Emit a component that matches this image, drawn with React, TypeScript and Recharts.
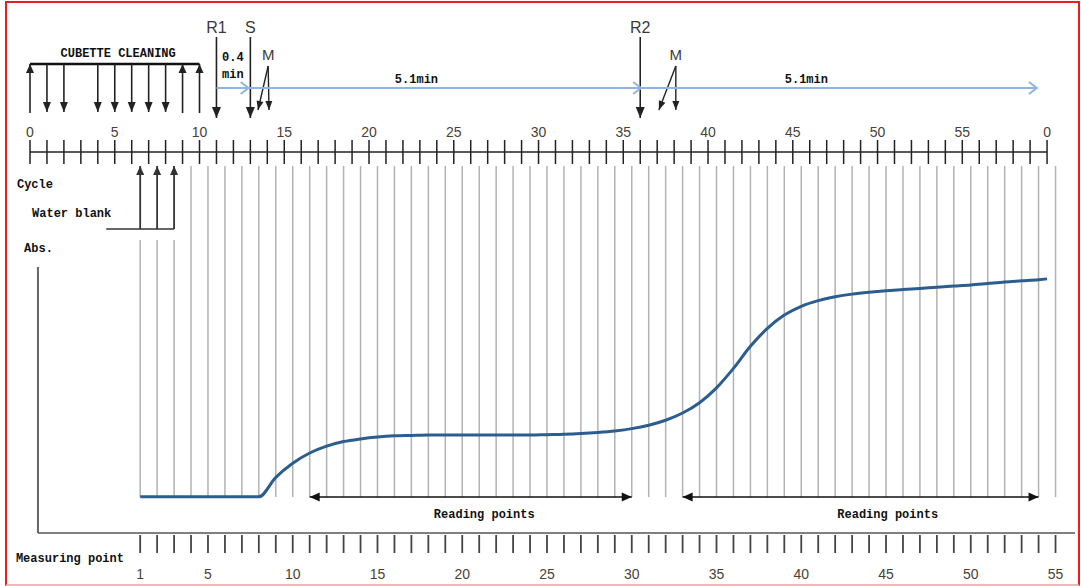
import React from 'react'
import { ComposedChart, Line, XAxis, YAxis, ReferenceLine, ReferenceDot } from 'recharts'

// absorbance curve, read per measuring point
const measuringPoints = [
  1, 2, 3, 4, 5, 6, 7, 8, 9, 10, 11, 12, 13, 14, 15, 16, 17, 18, 19, 20,
  21, 22, 23, 24, 25, 26, 27, 28, 29, 30, 31, 32, 33, 34, 35, 36, 37, 38, 39, 40,
  41, 42, 43, 44, 45, 46, 47, 48, 49, 50, 51, 52, 53, 54, 54.5,
]
const absorbance = [
  0.095, 0.095, 0.095, 0.095, 0.095, 0.095, 0.095, 0.095,
  0.146, 0.183, 0.21, 0.228, 0.24, 0.247, 0.252, 0.255,
  0.256, 0.257, 0.257, 0.257, 0.257, 0.257, 0.257, 0.257, 0.258,
  0.259, 0.261, 0.264, 0.268, 0.274, 0.283, 0.296, 0.315, 0.342, 0.381,
  0.432, 0.49, 0.537, 0.572, 0.595, 0.61, 0.62, 0.627, 0.632, 0.636,
  0.639, 0.642, 0.645, 0.648, 0.651, 0.655, 0.659, 0.662, 0.665, 0.667,
]

// top axis (cycles) and bottom axis (measuring points)
const cycleTicks = Array.from({ length: 61 }, (_, i) => i)
const cycleLabelValues = [0, 5, 10, 15, 20, 25, 30, 35, 40, 45, 50, 55, 60]
const cycleLabels = ['0', '5', '10', '15', '20', '25', '30', '35', '40', '45', '50', '55', '0']
const mpTicks = Array.from({ length: 55 }, (_, i) => i + 1)
const mpLabelValues = [1, 5, 10, 15, 20, 25, 30, 35, 40, 45, 50, 55]

// events along the cycle axis
const cleaningUp = [0, 9, 10]
const cleaningDown = [1, 2, 4, 5, 6, 7, 8]
const reagents = [
  { label: 'R1', cycle: 11 },
  { label: 'S', cycle: 13 },
  { label: 'R2', cycle: 36 },
]
const mixing = [
  { top: 14.05, targets: [13.45, 14.1] },
  { top: 38.1, targets: [37.1, 38.1] },
]
const timeline = [
  { from: 11, to: 12.9 },
  { from: 12.9, to: 36.05 },
  { from: 36.05, to: 59.4 },
]
const timelineLabels = [
  { text: '5.1min', cycle: 22.8 },
  { text: '5.1min', cycle: 45.8 },
]
const waterBlank = [1, 2, 3]
const readingRanges = [
  { from: 11, to: 30, labelAt: 21.3 },
  { from: 33, to: 54, labelAt: 45.1 },
]

const MONO = '"Liberation Mono", "DejaVu Sans Mono", monospace'
const SANS = '"Liberation Sans", Arial, sans-serif'
const BLUE = '#2c5d8f'
const TIMELINE = '#8eb4e3'

type ArrowOpts = { color?: string; width?: number; head?: number; headW?: number; open?: boolean; both?: boolean; noHead?: boolean }

const arrowShape = (o: ArrowOpts = {}) => (p: any) => {
  const { x1, y1, x2, y2 } = p
  const color = o.color ?? '#222'
  const len = o.head ?? 10
  const hw = (o.headW ?? 8) / 2
  const dx = x2 - x1
  const dy = y2 - y1
  const d = Math.hypot(dx, dy) || 1
  const ux = dx / d
  const uy = dy / d
  const head = (tx: number, ty: number, sx: number, sy: number) => {
    const bx = tx - sx * len
    const by = ty - sy * len
    const a = `${bx - sy * hw},${by + sx * hw}`
    const b = `${bx + sy * hw},${by - sx * hw}`
    if (o.open) return <polyline points={`${a} ${tx},${ty} ${b}`} fill="none" stroke={color} strokeWidth={o.width ?? 1.5} />
    return <polygon points={`${a} ${tx},${ty} ${b}`} fill={color} />
  }
  return (
    <g>
      <line x1={x1} y1={y1} x2={x2} y2={y2} stroke={color} strokeWidth={o.width ?? 1.5} />
      {!o.noHead && head(x2, y2, ux, uy)}
      {o.both && head(x1, y1, -ux, -uy)}
    </g>
  )
}

type TextOpts = { anchor?: 'start' | 'middle' | 'end'; size?: number; family?: string; weight?: string; fill?: string }

const textShape = (text: string, o: TextOpts = {}) => (p: any) => (
  <text
    x={p.cx}
    y={p.cy}
    textAnchor={o.anchor ?? 'start'}
    fontSize={o.size ?? 12.5}
    fontFamily={o.family ?? MONO}
    fontWeight={o.weight ?? 'bold'}
    fill={o.fill ?? '#111'}
  >
    {text}
  </text>
)

const CycleTick = (props: any) => {
  const { x, y, payload } = props
  const idx = cycleLabelValues.indexOf(payload.value)
  return (
    <g>
      <line x1={x} x2={x} y1={y + 3} y2={y + 27} stroke="#222" strokeWidth={1.5} />
      {idx >= 0 && (
        <text x={x} y={y} textAnchor="middle" fontSize={14} fontFamily={SANS} fill="#4a3f35">
          {cycleLabels[idx]}
        </text>
      )}
    </g>
  )
}

const MpTick = (props: any) => {
  const { x, y, payload } = props
  const show = mpLabelValues.includes(payload.value)
  return (
    <g>
      <line x1={x} x2={x} y1={y - 18} y2={y} stroke="#444" strokeWidth={1.8} />
      {show && (
        <text x={x} y={y + 26} textAnchor="middle" fontSize={14} fontFamily={SANS} fill="#4a3f35">
          {payload.value}
        </text>
      )}
    </g>
  )
}

export default function App() {
  const data = measuringPoints.map((mp, i) => ({ mp, abs: absorbance[i] }))
  const C = { xAxisId: 'cyc', yAxisId: 'row', ifOverflow: 'visible' as const }
  const M = { xAxisId: 'mp', yAxisId: 'row', ifOverflow: 'visible' as const }

  return (
    <div style={{ position: 'absolute', left: 0, top: 0, width: 1081, height: 586, background: '#fff' }}>
      <div
        style={{
          position: 'absolute', left: 5, top: 1, width: 1075, height: 585,
          border: '2px solid #ec1c24', borderBottomColor: '#f5b5b5', boxSizing: 'border-box',
        }}
      />
      <div style={{ position: 'absolute', left: 0, top: 0 }}>
        <ComposedChart width={1081} height={586} data={data} margin={{ top: 122, right: 17, bottom: 5, left: 30 }}>
          <XAxis
            xAxisId="cyc" orientation="top" type="number" dataKey="mp" domain={[0, 61]} allowDataOverflow
            ticks={cycleTicks} interval={0} height={30} axisLine={false} tickLine={false}
            tickSize={12} tickMargin={3} tick={(p: any) => <CycleTick {...p} />}
          />
          <XAxis
            xAxisId="mp" orientation="bottom" type="number" dataKey="mp" domain={[-5.5, 55.5]} allowDataOverflow
            ticks={mpTicks} interval={0} height={48} axisLine={false} tickLine={false}
            tickSize={20} tickMargin={0} tick={(p: any) => <MpTick {...p} />}
          />
          <YAxis yAxisId="abs" hide type="number" domain={[0, 1]} allowDataOverflow />
          <YAxis yAxisId="row" hide type="number" domain={[152, 533]} reversed allowDataOverflow />

          {/* measuring point guide lines */}
          {mpTicks.map((m) => (
            <ReferenceLine
              key={`g${m}`} {...M}
              segment={[{ x: m, y: waterBlank.includes(m) ? 240 : 166 }, { x: m, y: 497 }]}
              stroke="#b2b2b2" strokeWidth={1.5}
            />
          ))}

          {/* frame: abs axis and bottom line, top cycle axis line */}
          <ReferenceLine {...C} segment={[{ x: 0.47, y: 267 }, { x: 0.47, y: 533 }]} stroke="#666" strokeWidth={2} />
          <ReferenceLine {...C} segment={[{ x: 0.47, y: 533 }, { x: 61.65, y: 533 }]} stroke="#555" strokeWidth={1.5} />
          <ReferenceLine {...C} segment={[{ x: 0, y: 152 }, { x: 60, y: 152 }]} stroke="#222" strokeWidth={1.5} />

          <Line
            xAxisId="mp" yAxisId="abs" type="monotone" dataKey="abs" stroke={BLUE} strokeWidth={3}
            dot={false} activeDot={false} isAnimationActive={false}
          />

          {/* cuvette cleaning */}
          <ReferenceLine {...C} segment={[{ x: 0, y: 64 }, { x: 10, y: 64 }]} stroke="#111" strokeWidth={2.5} />
          {cleaningUp.map((c) => (
            <ReferenceLine key={`u${c}`} {...C} segment={[{ x: c, y: 113 }, { x: c, y: 64 }]} shape={arrowShape({ color: '#222', width: 1.6, head: 9, headW: 8 })} />
          ))}
          {cleaningDown.map((c) => (
            <ReferenceLine key={`d${c}`} {...C} segment={[{ x: c, y: 64 }, { x: c, y: 112 }]} shape={arrowShape({ color: '#222', width: 1.6, head: 10, headW: 8 })} />
          ))}
          <ReferenceDot {...C} x={5.2} y={57} shape={textShape('CUBETTE CLEANING', { anchor: 'middle', size: 12 })} />

          {/* reagent / sample additions */}
          {reagents.map((r) => (
            <ReferenceLine key={`r${r.label}`} {...C} segment={[{ x: r.cycle, y: 37 }, { x: r.cycle, y: 118 }]} shape={arrowShape({ color: '#222', width: 1.6, head: 11, headW: 9 })} />
          ))}
          {reagents.map((r) => (
            <ReferenceDot key={`rl${r.label}`} {...C} x={r.cycle} y={33} shape={textShape(r.label, { anchor: 'middle', size: 16, family: SANS, weight: 'normal', fill: '#3a3a3a' })} />
          ))}

          {/* mixing */}
          {mixing.map((m, i) =>
            m.targets.map((t) => (
              <ReferenceLine key={`m${i}${t}`} {...C} segment={[{ x: m.top, y: 66 }, { x: t, y: 110 }]} shape={arrowShape({ color: '#222', width: 1.4, head: 9, headW: 7 })} />
            ))
          )}
          {mixing.map((m, i) => (
            <ReferenceDot key={`ml${i}`} {...C} x={m.top} y={60} shape={textShape('M', { anchor: 'middle', size: 15, family: SANS, weight: 'normal', fill: '#3a3a3a' })} />
          ))}

          {/* reaction timeline */}
          {timeline.map((t, i) => (
            <ReferenceLine key={`t${i}`} {...C} segment={[{ x: t.from, y: 88 }, { x: t.to, y: 88 }]} shape={arrowShape({ color: TIMELINE, width: 2, head: 8, headW: 12, open: true })} />
          ))}
          <ReferenceDot {...C} x={11.33} y={61} shape={textShape('0.4', { size: 12 })} />
          <ReferenceDot {...C} x={11.33} y={78} shape={textShape('min', { size: 12 })} />
          {timelineLabels.map((l, i) => (
            <ReferenceDot key={`tl${i}`} {...C} x={l.cycle} y={83} shape={textShape(l.text, { anchor: 'middle', size: 12 })} />
          ))}

          {/* water blank */}
          <ReferenceLine {...M} segment={[{ x: -1.0, y: 229 }, { x: 3, y: 229 }]} stroke="#666" strokeWidth={2} />
          {waterBlank.map((m) => (
            <ReferenceLine key={`w${m}`} {...M} segment={[{ x: m, y: 229 }, { x: m, y: 166 }]} shape={arrowShape({ color: '#333', width: 1.8, head: 9, headW: 8 })} />
          ))}

          {/* reading points */}
          {readingRanges.map((r, i) => (
            <ReferenceLine key={`rp${i}`} {...M} segment={[{ x: r.from, y: 497 }, { x: r.to, y: 497 }]} shape={arrowShape({ color: '#111', width: 1.5, head: 10, headW: 9, both: true })} />
          ))}
          {readingRanges.map((r, i) => (
            <ReferenceDot key={`rpl${i}`} {...M} x={r.labelAt} y={518} shape={textShape('Reading points', { anchor: 'middle', size: 12 })} />
          ))}

          {/* side labels */}
          <ReferenceDot {...C} x={-0.77} y={188} shape={textShape('Cycle', { size: 12 })} />
          <ReferenceDot {...C} x={0.12} y={217} shape={textShape('Water blank', { size: 12 })} />
          <ReferenceDot {...C} x={-0.35} y={252} shape={textShape('Abs.', { size: 12 })} />
          <ReferenceDot {...C} x={-0.83} y={562} shape={textShape('Measuring point', { size: 12 })} />
        </ComposedChart>
      </div>
    </div>
  )
}
